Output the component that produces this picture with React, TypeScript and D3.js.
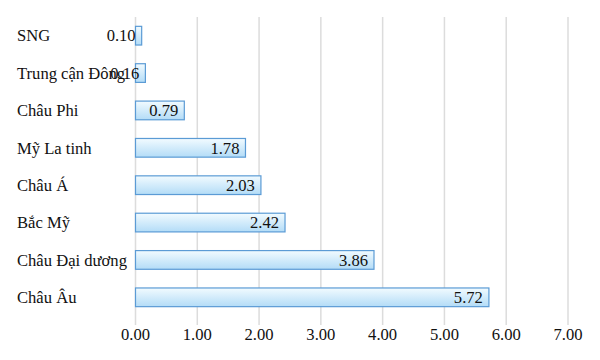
import React, { useEffect, useRef } from 'react';
import * as d3 from 'd3';

const categories = ['SNG', 'Trung cận Đông', 'Châu Phi', 'Mỹ La tinh', 'Châu Á', 'Bắc Mỹ', 'Châu Đại dương', 'Châu Âu'];
const values = [0.1, 0.16, 0.79, 1.78, 2.03, 2.42, 3.86, 5.72];
const xTicks = [0, 1, 2, 3, 4, 5, 6, 7];

export default function App() {
  const svgRef = useRef<SVGSVGElement>(null);
  const width = 600;
  const height = 360;

  useEffect(() => {
    const svg = d3.select(svgRef.current);
    svg.selectAll('*').remove();

    const margin = { top: 17, right: 32, bottom: 44, left: 135.5 };
    const x = d3.scaleLinear().domain([0, 7]).range([margin.left, width - margin.right]);
    const y = d3
      .scaleBand()
      .domain(categories)
      .range([margin.top, height - margin.bottom])
      .paddingInner(0.5)
      .paddingOuter(0.25);

    const defs = svg.append('defs');
    const grad = defs
      .append('linearGradient')
      .attr('id', 'barGrad')
      .attr('x1', 0).attr('y1', 0).attr('x2', 0).attr('y2', 1);
    grad.append('stop').attr('offset', '0%').attr('stop-color', '#f2fbff');
    grad.append('stop').attr('offset', '100%').attr('stop-color', '#b3dcf7');

    const font = '"Liberation Serif", serif';
    const fs = 16.6;

    // grid lines + ticks
    svg
      .append('g')
      .selectAll('line')
      .data(xTicks)
      .join('line')
      .attr('x1', (d) => x(d))
      .attr('x2', (d) => x(d))
      .attr('y1', margin.top)
      .attr('y2', height - margin.bottom + 9)
      .attr('stroke', '#dcdcdc')
      .attr('stroke-width', 1.5);

    svg
      .append('g')
      .selectAll('text')
      .data(xTicks)
      .join('text')
      .attr('x', (d) => x(d))
      .attr('y', 340)
      .attr('text-anchor', 'middle')
      .style('font-family', font)
      .attr('font-size', fs)
      .attr('fill', '#111')
      .text((d) => d3.format('.2f')(d));

    // category labels
    svg
      .append('g')
      .selectAll('text')
      .data(categories)
      .join('text')
      .attr('x', 17)
      .attr('y', (d) => (y(d) as number) + y.bandwidth() / 2)
      .attr('dy', '0.35em')
      .style('font-family', font)
      .attr('font-size', fs)
      .attr('fill', '#111')
      .text((d) => d);

    // bars
    svg
      .append('g')
      .selectAll('rect')
      .data(values)
      .join('rect')
      .attr('x', x(0))
      .attr('y', (d, i) => y(categories[i]) as number)
      .attr('width', (d) => x(d) - x(0))
      .attr('height', y.bandwidth())
      .attr('fill', 'url(#barGrad)')
      .attr('stroke', '#5b9bd5')
      .attr('stroke-width', 1.2);

    svg
      .append('g')
      .selectAll('text')
      .data(values)
      .join('text')
      .attr('x', (d) => x(d) - 6)
      .attr('y', (d, i) => (y(categories[i]) as number) + y.bandwidth() / 2)
      .attr('dy', '0.35em')
      .attr('text-anchor', 'end')
      .style('font-family', font)
      .attr('font-size', fs)
      .attr('fill', '#111')
      .text((d) => d3.format('.2f')(d));
  }, []);

  return (
    <svg
      ref={svgRef}
      width={width}
      height={height}
      style={{ position: 'absolute', left: 0, top: 0 }}
    />
  );
}
